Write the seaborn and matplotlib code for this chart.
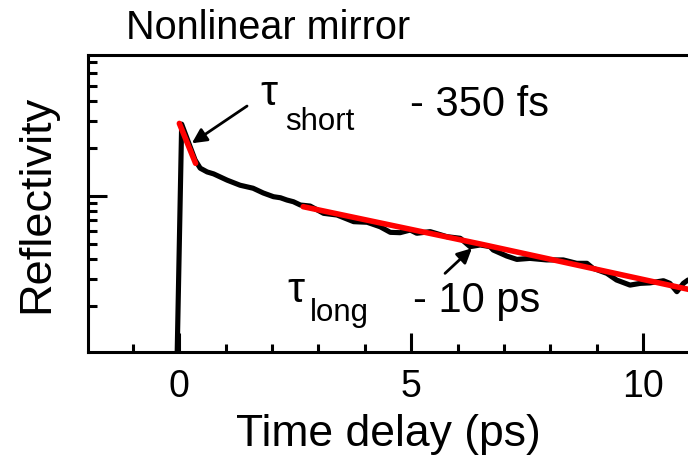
import numpy as np
import pandas as pd
import matplotlib
matplotlib.use("Agg")
import matplotlib.pyplot as plt
from matplotlib.ticker import MultipleLocator, NullFormatter, FixedLocator
import seaborn as sns

# ---- data ----
time_ps = [-0.05, 0.05, 0.34, 0.45, 0.60, 0.74, 1.03, 1.31, 1.59, 1.81, 2.03,
           2.18, 2.32, 2.46, 2.61, 2.82, 3.11, 3.40, 3.76, 4.05, 4.33, 4.55,
           4.76, 4.98, 5.12, 5.41, 5.77, 6.06, 6.27, 6.49, 6.70, 6.77, 7.06,
           7.28, 7.56, 7.92, 8.28, 8.57, 8.79, 8.92, 9.22, 9.43, 9.72, 9.94,
           10.15, 10.44, 10.58, 10.73, 10.87, 10.97, 11.10]
reflectivity = [0.09, 2.85, 1.69, 1.50, 1.42, 1.38, 1.26, 1.17, 1.12, 1.045, 0.99,
                0.975, 0.943, 0.920, 0.877, 0.864, 0.777, 0.758, 0.688, 0.682, 0.639, 0.589,
                0.586, 0.609, 0.581, 0.595, 0.553, 0.540, 0.478, 0.490, 0.478, 0.455, 0.417,
                0.397, 0.403, 0.394, 0.394, 0.375, 0.375, 0.349, 0.324, 0.294, 0.273, 0.280,
                0.282, 0.291, 0.280, 0.248, 0.280, 0.294, 0.290]

fit_short_t = [0.0, 0.35]
fit_short_r = [2.88, 1.61]

fit_long_t = [2.67, 6.49, 10.97, 11.20]
fit_long_r = [0.856, 0.497, 0.257, 0.249]

x_ticks = [0, 5, 10]
x_tick_labels = ["0", "5", "10"]

title_text = "Nonlinear mirror"
x_label = "Time delay (ps)"
y_label = "Reflectivity"

# ---- figure ----
sns.set_theme(style="ticks")
plt.rcParams["font.family"] = ["Liberation Sans", "DejaVu Sans"]

W, H = 688, 463
fig = plt.figure(figsize=(W / 100, H / 100), dpi=100)
ax = fig.add_axes([88 / W, (H - 352) / H, (W - 88) / W, (352 - 55.3) / H])

df = pd.DataFrame({"t": time_ps, "r": reflectivity})
df_s = pd.DataFrame({"t": fit_short_t, "r": fit_short_r})
df_l = pd.DataFrame({"t": fit_long_t, "r": fit_long_r})

sns.lineplot(data=df, x="t", y="r", ax=ax, color="black", lw=3.7,
             sort=False, estimator=None, zorder=2)
sns.lineplot(data=df_s, x="t", y="r", ax=ax, color="#ff0000", lw=4.0,
             sort=False, estimator=None, zorder=3)
sns.lineplot(data=df_l, x="t", y="r", ax=ax, color="#ff0000", lw=4.0,
             sort=False, estimator=None, zorder=3)

ax.set_yscale("log")
ax.set_xlim(-1.97, 10.97)
ax.set_ylim(0.103, 7.77)

ax.xaxis.set_major_locator(FixedLocator(x_ticks))
ax.set_xticklabels(x_tick_labels)
ax.xaxis.set_minor_locator(MultipleLocator(1))
ax.yaxis.set_major_formatter(NullFormatter())
ax.yaxis.set_minor_formatter(NullFormatter())

ax.tick_params(which="both", direction="in", top=False, right=False, width=2.2,
               color="black")
ax.tick_params(which="major", length=14, labelsize=27, pad=12, labelcolor="black")
ax.tick_params(axis="x", which="minor", length=6)
ax.tick_params(axis="y", which="minor", length=6.5)

for s in ["left", "bottom", "top"]:
    ax.spines[s].set_linewidth(2.2)
    ax.spines[s].set_color("black")
ax.spines["right"].set_visible(False)

ax.set_xlabel(x_label, fontsize=32, color="black", labelpad=7)
ax.set_ylabel(y_label, fontsize=32.5, color="black", labelpad=10)

fig.text(268 / W, 1 - 39 / H, title_text, fontsize=28.5, ha="center",
         va="baseline", color="black")

def ftext(px, py, s, size):
    fig.text(px / W, 1 - py / H, s, fontsize=size, ha="left", va="baseline",
             color="black")

ftext(260, 105, "τ", 31)
ftext(285, 130, "short", 22.5)
ftext(410, 116, "- 350 fs", 30)
ftext(287, 302, "τ", 31)
ftext(310, 321, "long", 22.5)
ftext(413, 311.7, "- 10 ps", 30)

arrow = dict(arrowstyle="-|>", color="black", lw=2.0, mutation_scale=22,
             shrinkA=0, shrinkB=0)
ax.annotate("", xy=(0.27, 2.156), xytext=(1.46, 3.71), arrowprops=arrow)
ax.annotate("", xy=(6.31, 0.467), xytext=(5.73, 0.324), arrowprops=arrow)

fig.savefig("out.png", dpi=100)
